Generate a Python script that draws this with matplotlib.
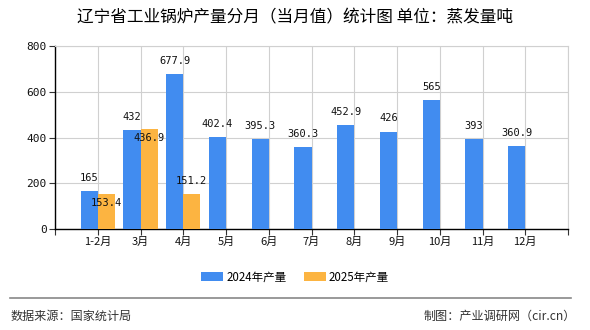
import matplotlib
matplotlib.use("Agg")
import matplotlib.pyplot as plt
import numpy as np

plt.rcParams['font.family'] = ['Noto Sans CJK SC', 'DejaVu Sans']

categories = ['1-2月', '3月', '4月', '5月', '6月', '7月', '8月', '9月', '10月', '11月', '12月']
values_2024 = [165, 432, 677.9, 402.4, 395.3, 360.3, 452.9, 426, 565, 393, 360.9]
values_2025 = [153.4, 436.9, 151.2]
label_2024 = '2024年产量'
label_2025 = '2025年产量'
yticks = [0, 200, 400, 600, 800]
title = '辽宁省工业锅炉产量分月（当月值）统计图 单位：蒸发量吨'
source = '数据来源：国家统计局'
credit = '制图：产业调研网（cir.cn）'

blue = '#418CF0'
orange = '#FCB441'

fig = plt.figure(figsize=(5.9, 3.3), dpi=100)
ax = fig.add_axes([55/590, 1-229/330, (568-55)/590, (229-46)/330])

x = np.arange(len(categories))
w = 0.4
b1 = ax.bar(x - w/2, values_2024, width=w, color=blue, label=label_2024, zorder=3)
x2 = x[:len(values_2025)]
b2 = ax.bar(x2 + w/2, values_2025, width=w, color=orange, label=label_2025, zorder=3)

mono = ['DejaVu Sans Mono']
for xi, v in zip(x, values_2024):
    ax.annotate(f'{v:g}', (xi - w/2, v), xytext=(0, 9.4), textcoords='offset points',
                ha='center', va='center', fontsize=7.5, family=mono, color='#111111', zorder=5)
offs_2025 = [-6.5, -6.5, 9.4]
for xi, v, o in zip(x2, values_2025, offs_2025):
    ax.annotate(f'{v:g}', (xi + w/2, v), xytext=(0, o), textcoords='offset points',
                ha='center', va='center', fontsize=7.5, family=mono, color='#111111', zorder=5)

ax.set_xlim(-1, len(categories))
ax.set_ylim(0, 800)
ax.set_yticks(yticks)
ax.set_yticklabels([str(t) for t in yticks], family=mono, fontsize=8)
ax.set_xticks(np.arange(-1, len(categories) + 1))
ax.set_xticklabels([''] + categories + [''], fontsize=8)
ax.grid(True, color='#d0d0d0', linewidth=0.8, zorder=0)
for s in ['top', 'right']:
    ax.spines[s].set_color('#d0d0d0')
    ax.spines[s].set_linewidth(0.8)
for s in ['left', 'bottom']:
    ax.spines[s].set_color('black')
    ax.spines[s].set_linewidth(1.0)
ax.tick_params(axis='both', length=4, width=0.8, color='#333333', labelcolor='#111111')
ax.tick_params(axis='y', pad=2)
ax.tick_params(axis='x', pad=2)

fig.text(0.5, 1-18/330, title, ha='center', va='center', fontsize=12, color='black')

fig.legend(handles=[b1, b2], labels=[label_2024, label_2025], loc='center',
           bbox_to_anchor=(0.5, 1-277/330), ncol=2, frameon=False, fontsize=8.3,
           handlelength=1.9, handleheight=0.7, columnspacing=1.5, handletextpad=0.3)

fig.add_artist(plt.Line2D([10/590, 571/590], [1-298/330, 1-298/330], color='#888888', linewidth=1.2))
fig.text(11/590, 1-316/330, source, ha='left', va='center', fontsize=8.7, color='#333333')
fig.text(576/590, 1-316/330, credit, ha='right', va='center', fontsize=8.7,
         family=['Noto Sans CJK SC'], color='#333333')

fig.savefig('out.png', dpi=100)
